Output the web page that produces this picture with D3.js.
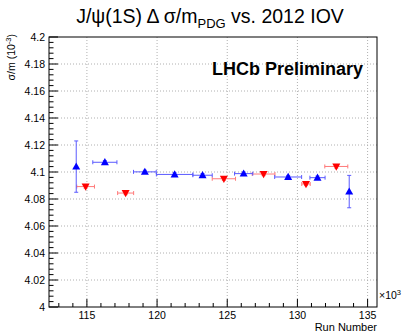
<!DOCTYPE html>
<html>
<head>
<meta charset="utf-8">
<script src="https://cdn.jsdelivr.net/npm/d3@7"></script>
<style>
  html, body { margin: 0; padding: 0; background: #fff; }
  svg { display: block; font-family: "Liberation Sans", Arial, sans-serif; }
</style>
</head>
<body>
<div id="chart"></div>
<script>
// IOV runs (x10^3), blue = up-triangle series
const blueRun  = [114.24, 116.28, 119.13, 121.25, 123.24, 126.17, 129.34, 131.43, 133.69];
const blueRunErr = [0, 0.86, 0.81, 1.30, 0.69, 0.65, 0.96, 0.54, 0];
const blueVal  = [4.1040, 4.1072, 4.1001, 4.0982, 4.0976, 4.0988, 4.0963, 4.0958, 4.0855];
const blueValErr = [0.0190, 0.0012, 0.0012, 0.0012, 0.0012, 0.0012, 0.0012, 0.0012, 0.0120];

// red = down-triangle series
const redRun  = [114.91, 117.76, 124.76, 127.59, 130.61, 132.77];
const redRunErr = [0.63, 0.57, 0.83, 0.81, 0.30, 0.82];
const redVal  = [4.0892, 4.0844, 4.0950, 4.0985, 4.0911, 4.1041];
const redValErr = [0.0012, 0.0012, 0.0012, 0.0012, 0.0012, 0.0012];

const yTicks = [4, 4.02, 4.04, 4.06, 4.08, 4.1, 4.12, 4.14, 4.16, 4.18, 4.2];
const yTickLabels = ["4", "4.02", "4.04", "4.06", "4.08", "4.1", "4.12", "4.14", "4.16", "4.18", "4.2"];
const xTicks = [115, 120, 125, 130, 135];

const W = 402, H = 333;
const margin = { top: 37, right: 25, bottom: 26, left: 49 };
const width = W - margin.left - margin.right;
const height = H - margin.top - margin.bottom;

const svg = d3.select("#chart").append("svg")
  .attr("width", W)
  .attr("height", H);

const g = svg.append("g")
  .attr("transform", `translate(${margin.left},${margin.top})`);

const x = d3.scaleLinear().domain([112.3, 135.67]).range([0, width]);
const y = d3.scaleLinear().domain([4, 4.2]).range([height, 0]);

// grid (dotted)
g.append("g").selectAll("line")
  .data(xTicks)
  .join("line")
  .attr("x1", d => x(d)).attr("x2", d => x(d))
  .attr("y1", 0).attr("y2", height)
  .attr("stroke", "#b0b0b0").attr("stroke-dasharray", "1,2");

g.append("g").selectAll("line")
  .data(yTicks.filter(d => d > 4 && d < 4.2))
  .join("line")
  .attr("x1", 0).attr("x2", width)
  .attr("y1", d => y(d)).attr("y2", d => y(d))
  .attr("stroke", "#b0b0b0").attr("stroke-dasharray", "1,2");

// frame
g.append("rect")
  .attr("width", width).attr("height", height)
  .attr("fill", "none").attr("stroke", "#000").attr("stroke-width", 1);

// y axis ticks (inward)
const yMinor = d3.range(4, 4.2001, 0.004);
g.append("g").selectAll("line")
  .data(yMinor)
  .join("line")
  .attr("x1", 0).attr("x2", d => yTicks.some(t => Math.abs(t - d) < 1e-6) ? 9 : 4.5)
  .attr("y1", d => y(d)).attr("y2", d => y(d))
  .attr("stroke", "#000");

g.append("g").selectAll("text")
  .data(yTicks)
  .join("text")
  .attr("x", -4)
  .attr("y", d => y(d))
  .attr("dy", "0.35em")
  .attr("text-anchor", "end")
  .attr("font-size", 10.5)
  .text((d, i) => yTickLabels[i]);

// x axis ticks (inward)
const xMinor = d3.range(113, 136, 1);
g.append("g").selectAll("line")
  .data(xMinor)
  .join("line")
  .attr("x1", d => x(d)).attr("x2", d => x(d))
  .attr("y1", height)
  .attr("y2", d => height - (d % 5 === 0 ? 8 : 4))
  .attr("stroke", "#000");

g.append("g").selectAll("text")
  .data(xTicks)
  .join("text")
  .attr("x", d => x(d))
  .attr("y", height + 12)
  .attr("text-anchor", "middle")
  .attr("font-size", 10.5)
  .text(d => d);

// x exponent and title
const xe = g.append("text")
  .attr("x", width + 2).attr("y", height - 8)
  .attr("font-size", 10.5)
  .text("\u00d710");
xe.append("tspan").attr("dy", -4).attr("font-size", 7.5).text("3");

g.append("text")
  .attr("x", width).attr("y", height + 24)
  .attr("text-anchor", "end")
  .attr("font-size", 11)
  .text("Run Number");

// y title
const yl = svg.append("text")
  .attr("transform", `translate(15,34) rotate(-90)`)
  .attr("text-anchor", "end")
  .attr("font-size", 10.5)
  .text("\u03c3/m (10");
yl.append("tspan").attr("dy", -4).attr("font-size", 7.5).text("-3");
yl.append("tspan").attr("dy", 4).text(")");

// main title
const title = svg.append("text")
  .attr("x", 210).attr("y", 23)
  .attr("text-anchor", "middle")
  .attr("font-size", 19.5)
  .text("J/\u03c8(1S) \u0394 \u03c3/m");
title.append("tspan").attr("dy", 5).attr("font-size", 13).text("PDG");
title.append("tspan").attr("dy", -5).text(" vs. 2012 IOV");

// LHCb label
g.append("text")
  .attr("x", 163).attr("y", 38)
  .attr("font-size", 18)
  .attr("font-weight", "bold")
  .text("LHCb Preliminary");

// series drawing
function drawSeries(runs, runErr, vals, valErr, markColor, barColor, up) {
  const pts = runs.map((r, i) => ({ r, re: runErr[i], v: vals[i], ve: valErr[i] }));
  const s = g.append("g");
  const cap = 2;
  // horizontal bars
  s.selectAll(".hb").data(pts.filter(d => d.re > 0)).join("path")
    .attr("d", d => {
      const x0 = x(d.r - d.re), x1 = x(d.r + d.re), yy = y(d.v);
      return `M${x0},${yy}H${x1}M${x0},${yy - cap}V${yy + cap}M${x1},${yy - cap}V${yy + cap}`;
    })
    .attr("stroke", barColor).attr("fill", "none");
  // vertical bars
  s.selectAll(".vb").data(pts).join("path")
    .attr("d", d => {
      const xx = x(d.r), y0 = y(d.v - d.ve), y1 = y(d.v + d.ve);
      return `M${xx},${y0}V${y1}M${xx - cap},${y0}H${xx + cap}M${xx - cap},${y1}H${xx + cap}`;
    })
    .attr("stroke", barColor).attr("fill", "none");
  // markers
  s.selectAll(".mk").data(pts).join("path")
    .attr("transform", d => `translate(${x(d.r)},${y(d.v)})`)
    .attr("d", up ? "M0,-4.2L4,3L-4,3Z" : "M0,4.2L4,-3L-4,-3Z")
    .attr("fill", markColor);
}

drawSeries(redRun, redRunErr, redVal, redValErr, "#ff0000", "#ff7a7a", false);
drawSeries(blueRun, blueRunErr, blueVal, blueValErr, "#0000ff", "#5a5aff", true);
</script>
</body>
</html>
